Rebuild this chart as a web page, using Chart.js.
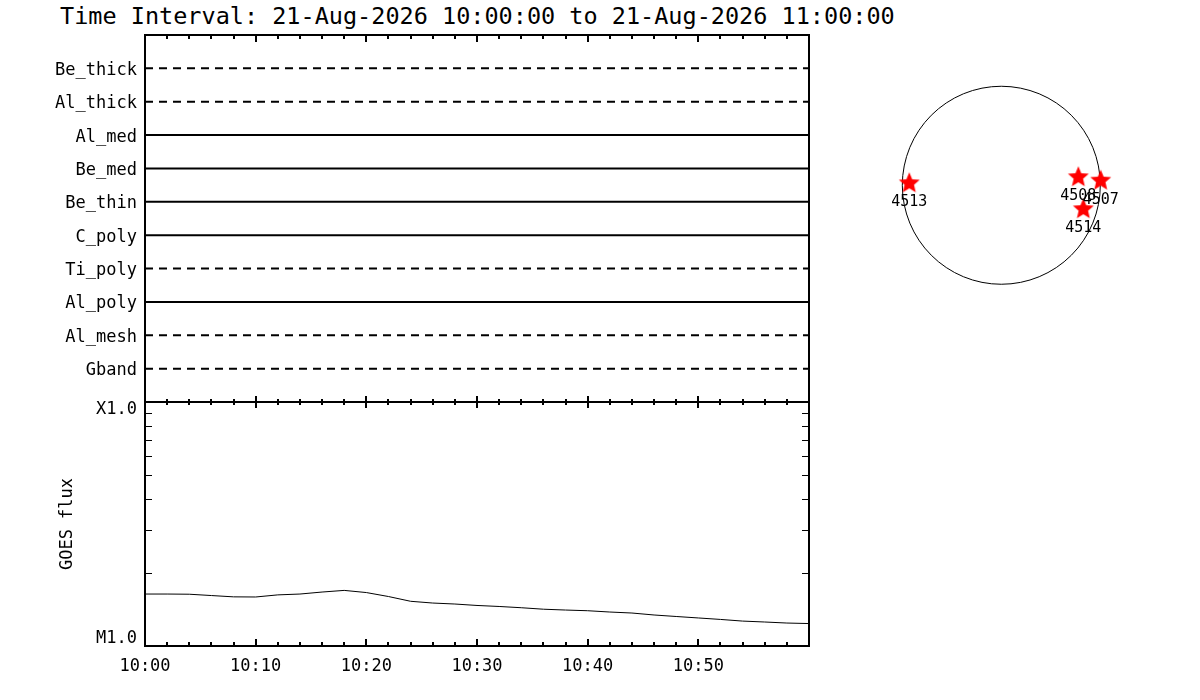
<!DOCTYPE html>
<html>
<head>
<meta charset="utf-8">
<script src="https://cdn.jsdelivr.net/npm/chart.js@4.4.1/dist/chart.umd.min.js"></script>
<style>
body { margin:0; background:#fff; width:1200px; height:700px; overflow:hidden; position:relative; }
#titulo { position:absolute; left:60px; top:2px; font:23.5px "DejaVu Sans Mono", monospace; color:#000; white-space:pre; }
#cvPrincipal { position:absolute; left:0; top:0; }
#cvSol { position:absolute; left:880px; top:65px; }
</style>
</head>
<body>
<div id="titulo">Time Interval: 21-Aug-2026 10:00:00 to 21-Aug-2026 11:00:00</div>
<canvas id="cvPrincipal" width="840" height="700"></canvas>
<canvas id="cvSol" width="240" height="240"></canvas>
<script>
// filtros (minutos despues de las 10:00)
const filtros = ['Be_thick','Al_thick','Al_med','Be_med','Be_thin','C_poly','Ti_poly','Al_poly','Al_mesh','Gband'];
const filtroInicio = [0,0,0,0,0,0,0,0,0,0];
const filtroFin = [60,60,60,60,60,60,60,60,60,60];
const filtrosPunteados = ['Be_thick','Al_thick','Ti_poly','Al_mesh','Gband'];

// GOES
const goesMinutos = [0,2,4,6,8,10,12,14,16,18,20,22,24,26,28,30,32,34,36,38,40,42,44,46,48,50,52,54,56,58,60];
const goesFlujo = [1.633e-5,1.633e-5,1.630e-5,1.610e-5,1.590e-5,1.588e-5,1.620e-5,1.633e-5,1.664e-5,1.690e-5,
                   1.656e-5,1.595e-5,1.525e-5,1.500e-5,1.486e-5,1.466e-5,1.452e-5,1.435e-5,1.415e-5,1.404e-5,
                   1.395e-5,1.378e-5,1.365e-5,1.340e-5,1.321e-5,1.303e-5,1.285e-5,1.265e-5,1.254e-5,1.242e-5,1.236e-5];
const goesTicks = ['M1.0','X1.0'];

// regiones activas (arcsec)
const regiones = ['4513','4508','4507','4514'];
const regionX = [-883, 739, 954, 787];
const regionY = [19, 77, 44, -230];
const radioSol = 950;

const fuente = { family: '"DejaVu Sans Mono", monospace', size: 17 };

function pad2(n){
    return String(n).padStart(2,'0');
}

// marcas tipo IDL: marco, ticks hacia adentro
const marcasIDL = {
    id: 'marcasIDL',
    afterDraw(chart){
        const ctx = chart.ctx;
        const x = chart.scales.x, yTop = chart.scales.yTop, yGoes = chart.scales.yGoes;
        const izq = x.left, der = x.right, arriba = yTop.top, medio = yTop.bottom, abajo = yGoes.bottom;
        ctx.save();
        ctx.strokeStyle = '#000';
        ctx.lineWidth = 2;
        ctx.strokeRect(izq, arriba, der - izq, abajo - arriba);
        ctx.beginPath();
        ctx.moveTo(izq, medio);
        ctx.lineTo(der, medio);
        ctx.stroke();

        for(let m = x.min; m <= x.max; m += 2){
            const px = Math.round(x.getPixelForValue(m));
            const mayor = m % 10 === 0;
            const l = mayor ? 7 : 4;
            const lm = mayor ? 6 : 3;
            ctx.beginPath();
            ctx.moveTo(px, arriba); ctx.lineTo(px, arriba + l);
            ctx.moveTo(px, medio - lm); ctx.lineTo(px, medio + lm);
            ctx.moveTo(px, abajo); ctx.lineTo(px, abajo - l);
            ctx.stroke();
        }

        ctx.lineWidth = 1;
        for(let k = 2; k <= 9; k++){
            const py = Math.round(yGoes.getPixelForValue(k * yGoes.min)) + 0.5;
            ctx.beginPath();
            ctx.moveTo(izq, py); ctx.lineTo(izq + 7, py);
            ctx.moveTo(der, py); ctx.lineTo(der - 7, py);
            ctx.stroke();
        }
        ctx.restore();
    }
};

let datasetsFiltros = filtros.map(function(nombre, i){
    return {
        yAxisID: 'yTop',
        data: [{x: filtroInicio[i], y: i + 1}, {x: filtroFin[i], y: i + 1}],
        borderColor: '#000',
        borderWidth: 2,
        borderDash: filtrosPunteados.includes(nombre) ? [8,6] : [],
        pointRadius: 0
    };
});

let datasetGoes = {
    yAxisID: 'yGoes',
    data: goesMinutos.map((m, i) => ({x: m, y: goesFlujo[i]})),
    borderColor: '#000',
    borderWidth: 1,
    pointRadius: 0,
    tension: 0
};

new Chart(document.getElementById('cvPrincipal'), {
    type: 'line',
    data: { datasets: datasetsFiltros.concat([datasetGoes]) },
    options: {
        responsive: false,
        animation: false,
        events: [],
        layout: { padding: { top: 35, right: 31, left: 0, bottom: 0 } },
        plugins: { legend: { display: false }, tooltip: { enabled: false } },
        scales: {
            x: {
                type: 'linear', position: 'bottom', min: 0, max: 60,
                grid: { display: false, drawTicks: false }, border: { display: false },
                ticks: {
                    stepSize: 10, autoSkip: false, maxRotation: 0, padding: 10, color: '#000', font: fuente,
                    callback: v => v < 60 ? '10:' + pad2(v) : ''
                },
                afterFit: s => { s.height = 54; }
            },
            yGoes: {
                type: 'logarithmic', position: 'left', stack: 'paneles', stackWeight: 244, weight: 0,
                min: 1e-5, max: 1e-4,
                grid: { display: false, drawTicks: false }, border: { display: false },
                ticks: {
                    autoSkip: false, padding: 8, color: '#000',
                    font: { family: fuente.family, size: 17, lineHeight: 0.85 },
                    callback: function(v){
                        const e = Math.log10(v);
                        // IDL pone las etiquetas de los extremos hacia adentro
                        if(Math.abs(e + 5) < 1e-3) return [goesTicks[0], ''];
                        if(Math.abs(e + 4) < 1e-3) return ['', goesTicks[1]];
                        return '';
                    }
                },
                title: { display: true, text: 'GOES flux', color: '#000', font: fuente, padding: { top: 57, bottom: 0 } },
                afterFit: s => { s.width = 145; }
            },
            yTop: {
                type: 'linear', position: 'left', stack: 'paneles', stackWeight: 367, weight: 1,
                min: 0, max: 11, reverse: true,
                grid: { display: false, drawTicks: false }, border: { display: false },
                ticks: {
                    stepSize: 1, autoSkip: false, padding: 8, labelOffset: 2, color: '#000', font: fuente,
                    callback: v => filtros[v - 1] || ''
                },
                afterFit: s => { s.width = 145; }
            }
        }
    },
    plugins: [marcasIDL]
});

// disco solar
function crearEstrella(r){
    const c = document.createElement('canvas');
    c.width = c.height = 2 * r + 2;
    const g = c.getContext('2d');
    g.fillStyle = '#ff0000';
    g.beginPath();
    for(let i = 0; i < 10; i++){
        const a = -Math.PI / 2 + i * Math.PI / 5;
        const rr = (i % 2) ? r * 0.45 : r;
        g.lineTo(r + 1 + rr * Math.cos(a), r + 1 + rr * Math.sin(a));
    }
    g.closePath();
    g.fill();
    return c;
}

const discoSolar = {
    id: 'discoSolar',
    beforeDatasetsDraw(chart){
        const ctx = chart.ctx;
        const sx = chart.scales.x, sy = chart.scales.y;
        const cx = sx.getPixelForValue(0), cy = sy.getPixelForValue(0);
        const r = sx.getPixelForValue(radioSol) - cx;
        ctx.save();
        ctx.strokeStyle = '#000';
        ctx.lineWidth = 1;
        ctx.beginPath();
        ctx.arc(cx, cy, r, 0, 2 * Math.PI);
        ctx.stroke();
        ctx.restore();
    },
    afterDatasetsDraw(chart){
        const ctx = chart.ctx;
        const meta = chart.getDatasetMeta(0);
        ctx.save();
        ctx.fillStyle = '#000';
        ctx.font = '15px "DejaVu Sans Mono", monospace';
        ctx.textAlign = 'center';
        ctx.textBaseline = 'middle';
        meta.data.forEach(function(p, i){
            ctx.fillText(regiones[i], p.x, p.y + 19);
        });
        ctx.restore();
    }
};

new Chart(document.getElementById('cvSol'), {
    type: 'scatter',
    data: {
        datasets: [{
            data: regionX.map((x, i) => ({x: x, y: regionY[i]})),
            pointStyle: crearEstrella(11),
            pointRadius: 11
        }]
    },
    options: {
        responsive: false,
        animation: false,
        events: [],
        layout: { padding: 0, autoPadding: false },
        plugins: { legend: { display: false }, tooltip: { enabled: false } },
        scales: {
            x: { type: 'linear', display: false, min: -1164, max: 1139 },
            y: { type: 'linear', display: false, min: -1149, max: 1154 }
        }
    },
    plugins: [discoSolar]
});
</script>
</body>
</html>
